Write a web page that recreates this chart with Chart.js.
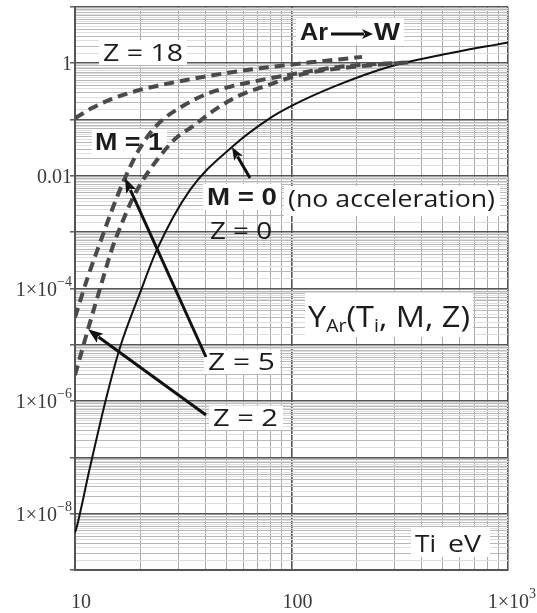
<!DOCTYPE html>
<html>
<head>
<meta charset="utf-8">
<script src="https://cdn.jsdelivr.net/npm/chart.js@4.4.0/dist/chart.umd.min.js"></script>
<style>
  html, body { margin: 0; padding: 0; background: #fff; }
  #wrap { width: 537px; height: 613px; }
</style>
</head>
<body>
<div id="wrap"><canvas id="chart" width="537" height="613"></canvas></div>
<script>
// Sputtering yield of W by Ar ions versus ion temperature Ti (eV)

// M = 0, Z = 0 (no acceleration)
const tiNoAccel = [10, 10.2, 11.7, 13.9, 16.1, 20, 23.9, 34, 53.1, 79.6, 99.5, 159, 288, 485, 1000];
const yNoAccel  = [4.6e-9, 5.9e-9, 6.4e-8, 1.08e-6, 8.7e-6, 8.5e-5, 4.9e-4, 5.65e-3, 0.0326, 0.106, 0.173, 0.392, 0.885, 1.39, 2.35];

// M = 1, Z = 2
const tiZ2 = [10, 11.48, 13.05, 14.83, 16.49, 18.53, 21.05, 23.92, 28.96, 35.08, 44.33, 56.6, 75.4, 111.8, 186.3, 352];
const yZ2  = [2.88e-6, 1.88e-5, 1.0e-4, 5.1e-4, 1.47e-3, 4.08e-3, 9.6e-3, 0.0192, 0.0452, 0.0767, 0.150, 0.261, 0.392, 0.639, 0.85, 1.04];

// M = 1, Z = 5
const tiZ5 = [10, 11.48, 13.05, 14.83, 17.02, 19.96, 23.92, 30.55, 39.85, 52.0, 67.8, 103.8, 167.5, 352];
const yZ5  = [3.07e-5, 1.63e-4, 6.5e-4, 2.5e-3, 9.2e-3, 0.0313, 0.080, 0.163, 0.277, 0.384, 0.48, 0.652, 0.867, 1.04];

// M = 1, Z = 18
const tiZ18 = [10, 11.98, 14.51, 18.93, 24.7, 32.2, 42.0, 54.8, 71.5, 93.3, 121.8, 158.8, 211.7];
const yZ18  = [0.106, 0.16, 0.226, 0.319, 0.408, 0.5, 0.601, 0.707, 0.816, 0.922, 1.04, 1.153, 1.30];

// Axis labels: [base, superscript]
const xTickValues = [10, 100, 1000];
const xTickLabels = [['10', ''], ['100', ''], ['1×10', '3']];
const yTickValues = [1, 0.01, 1e-4, 1e-6, 1e-8];
const yTickLabels = [['1', ''], ['0.01', ''], ['1×10', '−4'], ['1×10', '−6'], ['1×10', '−8']];

const zip = (xs, ys) => xs.map((x, i) => ({ x: x, y: ys[i] }));

// Grid lines of a log axis: decades are 'major', integer mantissas 'minor', half steps 'fine'
function logGrid(loExp, hiExp, mantissas) {
  const out = [];
  for (let e = loExp; e < hiExp; e++) {
    const base = Math.pow(10, e);
    mantissas.forEach(m => out.push({
      value: m * base,
      kind: m === 1 ? 'major' : (Number.isInteger(m) ? 'minor' : 'fine')
    }));
  }
  out.push({ value: Math.pow(10, hiExp), kind: 'major' });
  return out;
}
const xMant = [1, 2, 3, 4, 5, 6, 7, 8, 9];
const yMant = [1, 1.5, 2, 2.5, 3, 3.5, 4, 4.5, 5, 5.5, 6, 6.5, 7, 7.5, 8, 8.5, 9, 9.5];

const kindOf = c => (c.tick && c.tick.kind) || 'fine';
const gridColor = (major, minor, fine) => c => {
  const k = kindOf(c);
  return k === 'major' ? major : (k === 'minor' ? minor : fine);
};

// Text drawn to a given width (horizontal scaling only)
function fitText(ctx, str, x, baseline, font, width) {
  ctx.font = font;
  const w = ctx.measureText(str).width;
  ctx.save();
  ctx.translate(x, baseline);
  ctx.scale(width / w, 1);
  ctx.fillText(str, 0, 0);
  ctx.restore();
}

// Mixed-size run of text (subscripts) fitted to a width
function richText(ctx, parts, x, baseline, family, width) {
  let total = 0;
  parts.forEach(p => { ctx.font = p.size + 'px ' + family; p.w = ctx.measureText(p.t).width; total += p.w; });
  ctx.save();
  ctx.translate(x, baseline);
  ctx.scale(width / total, 1);
  let cx = 0;
  parts.forEach(p => {
    ctx.font = p.size + 'px ' + family;
    ctx.fillText(p.t, cx, p.dy);
    cx += p.w;
  });
  ctx.restore();
}

function arrow(ctx, x0, y0, x1, y1, lw, headLen, headW) {
  const a = Math.atan2(y1 - y0, x1 - x0);
  const ca = Math.cos(a), sa = Math.sin(a);
  const bx = x1 - headLen * ca, by = y1 - headLen * sa;
  ctx.lineWidth = lw;
  ctx.lineCap = 'butt';
  ctx.beginPath();
  ctx.moveTo(x0, y0);
  ctx.lineTo(bx + 2 * ca, by + 2 * sa);
  ctx.stroke();
  ctx.beginPath();
  ctx.moveTo(x1, y1);
  ctx.lineTo(bx - (headW / 2) * sa, by + (headW / 2) * ca);
  ctx.lineTo(bx + 3 * ca, by + 3 * sa);
  ctx.lineTo(bx + (headW / 2) * sa, by - (headW / 2) * ca);
  ctx.closePath();
  ctx.fill();
}

const SANS = '"Open Sans", "DejaVu Sans", sans-serif';
const BOLD = 'bold 24px "Liberation Sans", Arial, sans-serif';
const SERIF = '"Liberation Serif", "DejaVu Serif", serif';

// White label panels under the annotations
const panels = [
  [99, 40, 88, 25],
  [92, 129, 75, 25],
  [203, 184, 78, 26],
  [284, 186, 216, 30],
  [296, 18, 108, 27],
  [204, 350, 76, 24],
  [209, 406, 74, 24],
  [305, 293, 168, 44],
  [411, 527, 79, 30]
];

const annotations = {
  id: 'annotations',
  beforeDatasetsDraw(chart) {
    const ctx = chart.ctx;
    ctx.save();
    ctx.fillStyle = '#fff';
    panels.forEach(p => ctx.fillRect(p[0], p[1], p[2], p[3]));
    ctx.fillStyle = '#1c1c1c';
    ctx.textBaseline = 'alphabetic';
    ctx.textAlign = 'left';
    fitText(ctx, 'Z = 18', 103, 61, '24px ' + SANS, 80);
    fitText(ctx, 'M = 1', 95, 150, BOLD, 68);
    fitText(ctx, 'M = 0', 207, 205, BOLD, 70);
    fitText(ctx, '(no acceleration)', 288, 207, '24px ' + SANS, 207);
    fitText(ctx, 'Z = 0', 210, 239, '24px ' + SANS, 62);
    fitText(ctx, 'Z = 5', 208, 370, '24px ' + SANS, 67);
    fitText(ctx, 'Z = 2', 213, 426, '24px ' + SANS, 65);
    fitText(ctx, 'Ar', 300, 40, BOLD, 28);
    fitText(ctx, 'W', 374, 40, BOLD, 26);
    richText(ctx, [
      { t: 'Y', size: 30, dy: 0 },
      { t: 'Ar', size: 18, dy: 5 },
      { t: '(T', size: 30, dy: 0 },
      { t: 'i', size: 18, dy: 5 },
      { t: ', M, Z)', size: 30, dy: 0 }
    ], 308, 327, SANS, 162);
    fitText(ctx, 'Ti', 415, 552, '24px ' + SANS, 21);
    fitText(ctx, 'eV', 448, 552, '24px ' + SANS, 33);
    ctx.restore();
  },
  afterDatasetsDraw(chart) {
    const ctx = chart.ctx;
    const xs = chart.scales.x, ys = chart.scales.y;
    const px = (x, y) => [xs.getPixelForValue(x), ys.getPixelForValue(y)];
    ctx.save();
    ctx.strokeStyle = '#111';
    ctx.fillStyle = '#111';
    const tZ5 = px(tiZ5[4], yZ5[4]);
    const tZ2 = px(tiZ2[1], yZ2[1]);
    const tM0 = px(tiNoAccel[8], yNoAccel[8]);
    arrow(ctx, 206, 357, tZ5[0], tZ5[1], 3, 15, 11);
    arrow(ctx, 206, 415, tZ2[0], tZ2[1], 3, 15, 11);
    arrow(ctx, 250, 178, tM0[0], tM0[1], 3, 13, 10);
    arrow(ctx, 331, 34, 373, 34, 3, 11, 10);

    // tick labels
    ctx.fillStyle = '#3a3a3a';
    ctx.textBaseline = 'alphabetic';
    yTickValues.forEach((v, i) => {
      const py = ys.getPixelForValue(v);
      const [base, sup] = yTickLabels[i];
      ctx.font = '20px ' + SERIF;
      const wb = ctx.measureText(base).width;
      ctx.font = '14px ' + SERIF;
      const ws = sup ? ctx.measureText(sup).width : 0;
      const right = 72;
      ctx.font = '20px ' + SERIF;
      ctx.fillText(base, right - ws - wb, py + 7);
      if (sup) { ctx.font = '14px ' + SERIF; ctx.fillText(sup, right - ws, py - 3); }
    });
    xTickValues.forEach((v, i) => {
      const pxv = xs.getPixelForValue(v);
      const [base, sup] = xTickLabels[i];
      ctx.font = '20px ' + SERIF;
      const wb = ctx.measureText(base).width;
      ctx.font = '14px ' + SERIF;
      const ws = sup ? ctx.measureText(sup).width : 0;
      const left = Math.min(pxv + 6 - (wb + ws) / 2, 536 - wb - ws);
      ctx.font = '20px ' + SERIF;
      ctx.fillText(base, left, 608);
      if (sup) { ctx.font = '14px ' + SERIF; ctx.fillText(sup, left + wb, 598); }
    });
    ctx.restore();
  }
};

const dashed = {
  borderColor: '#4a4a4a',
  borderWidth: 4,
  borderDash: [10, 6],
  pointRadius: 0,
  fill: false,
  cubicInterpolationMode: 'monotone'
};

new Chart(document.getElementById('chart'), {
  type: 'line',
  data: {
    datasets: [
      Object.assign({ label: 'M = 1, Z = 18', data: zip(tiZ18, yZ18) }, dashed),
      Object.assign({ label: 'M = 1, Z = 5', data: zip(tiZ5, yZ5) }, dashed),
      Object.assign({ label: 'M = 1, Z = 2', data: zip(tiZ2, yZ2) }, dashed),
      {
        label: 'M = 0, Z = 0',
        data: zip(tiNoAccel, yNoAccel),
        borderColor: '#111',
        borderWidth: 2,
        pointRadius: 0,
        fill: false,
        cubicInterpolationMode: 'monotone'
      }
    ]
  },
  options: {
    responsive: false,
    devicePixelRatio: 1,
    animation: false,
    layout: { padding: { left: 0, top: 7, right: 29, bottom: 0 } },
    plugins: { legend: { display: false }, tooltip: { enabled: false } },
    scales: {
      x: {
        type: 'logarithmic',
        min: 10,
        max: 1000,
        afterBuildTicks: s => { s.ticks = logGrid(1, 3, xMant); },
        afterFit: s => { s.height = 43; },
        ticks: { display: false, autoSkip: false },
        grid: {
          color: gridColor('#555', '#a9a9a9', '#dcdcdc'),
          lineWidth: c => kindOf(c) === 'major' ? 1.6 : 1,
          drawTicks: false
        },
        border: { display: true, color: '#555', width: 2 }
      },
      y: {
        type: 'logarithmic',
        min: 1e-9,
        max: 10,
        afterBuildTicks: s => { s.ticks = logGrid(-9, 1, yMant); },
        afterFit: s => { s.width = 75; },
        ticks: { display: false, autoSkip: false },
        grid: {
          color: gridColor('#555', '#b8b8b8', '#dedede'),
          lineWidth: c => kindOf(c) === 'major' ? 1.6 : 1,
          drawTicks: true,
          tickLength: 5,
          tickColor: c => kindOf(c) === 'major' ? '#555' : 'rgba(0,0,0,0)',
          tickWidth: 1.4
        },
        border: { display: true, color: '#555', width: 2 }
      }
    }
  },
  plugins: [annotations]
});
</script>
</body>
</html>
